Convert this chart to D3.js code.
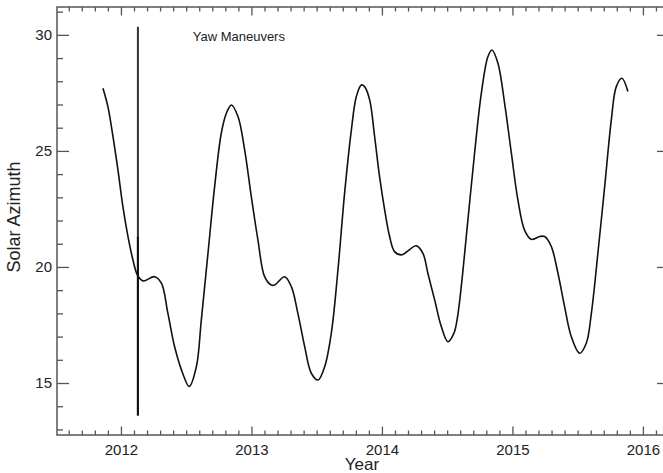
<!DOCTYPE html>
<html>
<head>
<meta charset="utf-8">
<script src="https://cdn.jsdelivr.net/npm/d3@7"></script>
<style>
  html, body { margin: 0; padding: 0; background: #fff; }
  svg { display: block; }
  text { font-family: "Liberation Sans", Arial, Helvetica, sans-serif; fill: #222; }
</style>
</head>
<body>
<svg id="chart" width="663" height="473"></svg>
<script>
// ---- data ----
const years = [2011.862,2011.900,2011.939,2011.977,2012.015,2012.054,2012.092,2012.126,2012.169,2012.258,2012.310,2012.360,2012.411,2012.475,2012.523,2012.578,2012.616,2012.667,2012.718,2012.769,2012.808,2012.846,2012.897,2012.948,2012.999,2013.050,2013.101,2013.152,2013.178,2013.254,2013.306,2013.356,2013.408,2013.459,2013.510,2013.561,2013.612,2013.663,2013.714,2013.766,2013.804,2013.842,2013.867,2013.906,2013.944,2013.982,2014.021,2014.059,2014.097,2014.149,2014.264,2014.314,2014.352,2014.404,2014.455,2014.506,2014.553,2014.578,2014.608,2014.659,2014.710,2014.762,2014.812,2014.843,2014.889,2014.940,2014.992,2015.042,2015.093,2015.145,2015.208,2015.247,2015.298,2015.349,2015.400,2015.451,2015.515,2015.566,2015.605,2015.655,2015.707,2015.758,2015.796,2015.839,2015.885];
const azimuth = [27.70,26.91,25.62,24.18,22.60,21.31,20.30,19.66,19.40,19.58,19.30,18.00,16.57,15.39,14.85,15.70,17.72,20.59,23.46,25.76,26.62,26.98,26.48,25.04,23.03,21.16,19.58,19.22,19.22,19.58,19.15,18.00,16.57,15.42,15.13,15.70,17.14,19.87,23.18,25.91,27.34,27.84,27.77,27.20,25.62,23.89,22.46,21.31,20.66,20.52,20.91,20.59,19.73,18.58,17.43,16.78,17.16,17.80,19.15,22.03,24.90,27.49,29.06,29.35,28.78,27.06,24.90,22.89,21.59,21.19,21.31,21.31,20.88,19.73,18.29,17.00,16.28,16.71,18.00,20.59,23.46,26.34,27.77,28.13,27.56];
const yawYear = 2012.13;
const yawRange = [13.6, 30.35];
const yawLabel = "Yaw Maneuvers";
const xMajorTicks = [2012, 2013, 2014, 2015, 2016];
const yMajorTicks = [15, 20, 25, 30];
const xTitle = "Year";
const yTitle = "Solar Azimuth";

// ---- layout ----
const pL = 57, pR = 669, pT = 7, pB = 435;
const x = d3.scaleLinear().domain([2011.51, 2016.2]).range([pL, pR]);
const y = d3.scaleLinear().domain([12.76, 31.2]).range([pB, pT]);

const xMinor = d3.range(2011.6, 2016.2, 0.1).map(v => Math.round(v * 10) / 10).filter(v => Math.abs(v - Math.round(v)) > 1e-6);
const yMinor = d3.range(13, 32, 1).filter(v => v % 5 !== 0);

const svg = d3.select("#chart");
const axisColor = "#555";
const fontSize = 15;

function styleAxis(g) {
  g.select(".domain").remove();
  g.selectAll("line").attr("stroke", axisColor).attr("stroke-width", 1.3);
  g.selectAll("text").attr("font-size", fontSize).attr("fill", "#222")
    .attr("font-family", '"Liberation Sans", Arial, Helvetica, sans-serif');
}

// bottom axis
svg.append("g").attr("transform", `translate(0,${pB})`)
  .call(d3.axisBottom(x).tickValues(xMajorTicks).tickFormat(d3.format("d")).tickSizeInner(-8.5).tickSizeOuter(0).tickPadding(9))
  .call(styleAxis);
svg.append("g").attr("transform", `translate(0,${pB})`)
  .call(d3.axisBottom(x).tickValues(xMinor).tickFormat("").tickSizeInner(-4.5).tickSizeOuter(0))
  .call(styleAxis);
// top axis
svg.append("g").attr("transform", `translate(0,${pT})`)
  .call(d3.axisTop(x).tickValues(xMajorTicks).tickFormat("").tickSizeInner(-8.5).tickSizeOuter(0))
  .call(styleAxis);
svg.append("g").attr("transform", `translate(0,${pT})`)
  .call(d3.axisTop(x).tickValues(xMinor).tickFormat("").tickSizeInner(-4.5).tickSizeOuter(0))
  .call(styleAxis);
// left axis
svg.append("g").attr("transform", `translate(${pL},0)`)
  .call(d3.axisLeft(y).tickValues(yMajorTicks).tickFormat(d3.format("d")).tickSizeInner(-12).tickSizeOuter(0).tickPadding(5))
  .call(styleAxis);
svg.append("g").attr("transform", `translate(${pL},0)`)
  .call(d3.axisLeft(y).tickValues(yMinor).tickFormat("").tickSizeInner(-6).tickSizeOuter(0))
  .call(styleAxis);
// right axis
svg.append("g").attr("transform", `translate(${pR},0)`)
  .call(d3.axisRight(y).tickValues(yMajorTicks).tickFormat("").tickSizeInner(-12).tickSizeOuter(0))
  .call(styleAxis);
svg.append("g").attr("transform", `translate(${pR},0)`)
  .call(d3.axisRight(y).tickValues(yMinor).tickFormat("").tickSizeInner(-6).tickSizeOuter(0))
  .call(styleAxis);

// frame
svg.append("rect").attr("x", pL).attr("y", pT)
  .attr("width", pR - pL).attr("height", pB - pT)
  .attr("fill", "none").attr("stroke", axisColor).attr("stroke-width", 1.5);

// titles
svg.append("text").attr("x", 362).attr("y", 470)
  .attr("text-anchor", "middle").attr("font-size", 17).text(xTitle);
svg.append("text").attr("transform", `translate(20,217) rotate(-90)`)
  .attr("text-anchor", "middle").attr("font-size", 18).text(yTitle);

// yaw maneuver line
svg.append("line")
  .attr("x1", x(yawYear)).attr("x2", x(yawYear))
  .attr("y1", y(yawRange[1])).attr("y2", y(yawRange[0]))
  .attr("stroke", "#333").attr("stroke-width", 2);
svg.append("line")
  .attr("x1", x(yawYear)).attr("x2", x(yawYear))
  .attr("y1", y(21.3)).attr("y2", y(yawRange[0]))
  .attr("stroke", "#111").attr("stroke-width", 2);

svg.append("text").attr("x", x(2012.55)).attr("y", 41)
  .attr("font-size", 13).text(yawLabel);

// curve
const pts = years.map((t, i) => [t, azimuth[i]]);
const line = d3.line().x(d => x(d[0])).y(d => y(d[1])).curve(d3.curveCatmullRom.alpha(0.5));
svg.append("path").datum(pts).attr("d", line)
  .attr("fill", "none").attr("stroke", "#111").attr("stroke-width", 1.6)
  .attr("stroke-linejoin", "round");
</script>
</body>
</html>
